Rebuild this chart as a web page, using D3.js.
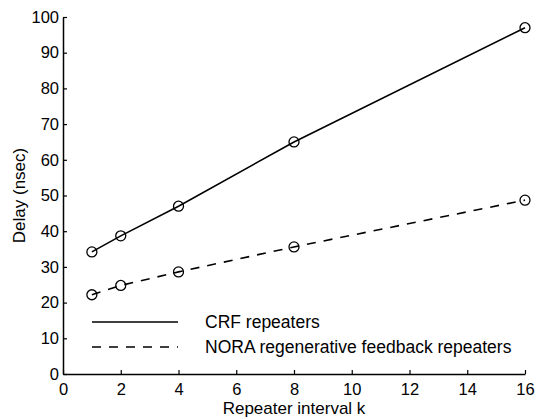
<!DOCTYPE html>
<html>
<head>
<meta charset="utf-8">
<script src="https://cdn.jsdelivr.net/npm/d3@7"></script>
<style>
  body { margin: 0; background: #fff; }
  text { font-family: "Liberation Sans", Arial, sans-serif; fill: #000; }
</style>
</head>
<body>
<script>
// data
const k = [1, 2, 4, 8, 16];
const crf = [34.2, 38.7, 47, 65, 97];
const nora = [22.2, 24.8, 28.6, 35.6, 48.7];
const xTicks = [0, 2, 4, 6, 8, 10, 12, 14, 16];
const yTicks = [0, 10, 20, 30, 40, 50, 60, 70, 80, 90, 100];
const seriesNames = ["CRF repeaters", "NORA regenerative feedback repeaters"];

// dimensions and margins
const margin = { top: 17, right: 14, bottom: 45, left: 63 };
const width = 539 - margin.left - margin.right;
const height = 419 - margin.top - margin.bottom;

const svg = d3.select("body").append("svg")
    .attr("width", 539)
    .attr("height", 419)
    .append("g")
    .attr("transform", "translate(" + margin.left + "," + margin.top + ")");

// scales
const xScale = d3.scaleLinear().domain([0, 16]).range([0, width]);
const yScale = d3.scaleLinear().domain([0, 100]).range([height, 0]);

// axes, ticks pointing inward
const xAxis = svg.append("g")
    .attr("transform", "translate(0," + height + ")")
    .call(d3.axisBottom(xScale).tickValues(xTicks).tickSizeInner(-4).tickSizeOuter(0).tickPadding(9));
const yAxis = svg.append("g")
    .call(d3.axisLeft(yScale).tickValues(yTicks).tickSizeInner(-4).tickSizeOuter(0).tickPadding(4));

[xAxis, yAxis].forEach(function(a) {
    a.select(".domain").attr("stroke", "#000").attr("stroke-width", 1.5);
    a.selectAll(".tick line").attr("stroke", "#000").attr("stroke-width", 1.2);
    a.selectAll(".tick text")
        .style("font-family", "'Liberation Sans', Arial, sans-serif")
        .style("font-size", "16.5px")
        .attr("fill", "#000");
});

// axis labels
svg.append("text")
    .attr("x", width / 2)
    .attr("y", height + 40)
    .style("text-anchor", "middle")
    .style("font-size", "17px")
    .text("Repeater interval k");

svg.append("text")
    .attr("transform", "rotate(-90)")
    .attr("x", -height / 2)
    .attr("y", -38)
    .style("text-anchor", "middle")
    .style("font-size", "17px")
    .text("Delay (nsec)");

// lines
const line = d3.line()
    .x(d => xScale(d[0]))
    .y(d => yScale(d[1]));

const series = [
    { name: seriesNames[0], values: k.map((v, i) => [v, crf[i]]), dash: null },
    { name: seriesNames[1], values: k.map((v, i) => [v, nora[i]]), dash: "9,8" }
];

series.forEach(function(s) {
    svg.append("path")
        .datum(s.values)
        .attr("d", line)
        .attr("fill", "none")
        .attr("stroke", "#000")
        .attr("stroke-width", 1.6)
        .attr("stroke-dasharray", s.dash);

    svg.selectAll(null)
        .data(s.values)
        .enter().append("circle")
        .attr("cx", d => xScale(d[0]))
        .attr("cy", d => yScale(d[1]))
        .attr("r", 5)
        .attr("fill", "none")
        .attr("stroke", "#000")
        .attr("stroke-width", 1.3);
});

// legend
const legend = svg.append("g").attr("transform", "translate(29,305)");
series.forEach(function(s, i) {
    legend.append("line")
        .attr("x1", 0)
        .attr("x2", 86)
        .attr("y1", i * 25)
        .attr("y2", i * 25)
        .attr("stroke", "#000")
        .attr("stroke-width", 1.6)
        .attr("stroke-dasharray", s.dash);
    legend.append("text")
        .attr("x", 113)
        .attr("y", i * 25 + 6)
        .style("font-size", "17.5px")
        .text(s.name);
});
</script>
</body>
</html>
